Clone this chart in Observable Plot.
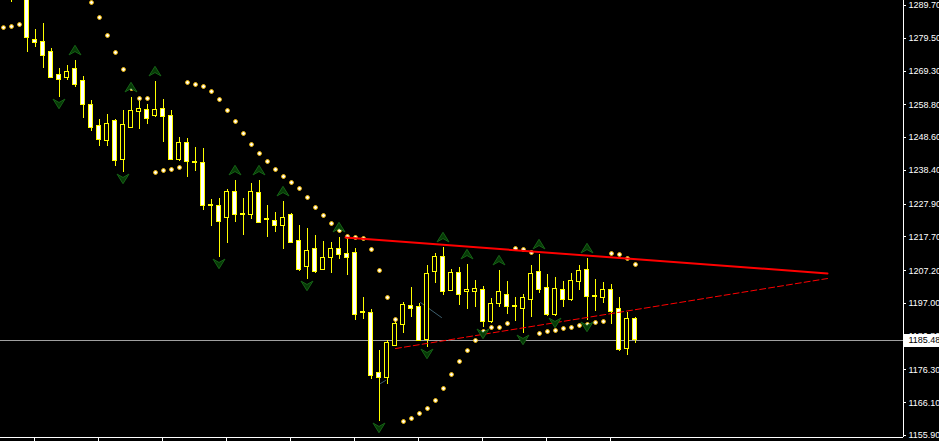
<!DOCTYPE html>
<html><head><meta charset="utf-8">
<script src="https://cdn.jsdelivr.net/npm/d3@7"></script>
<script src="https://cdn.jsdelivr.net/npm/@observablehq/plot@0.6"></script>
<style>
html,body{margin:0;padding:0;background:#000;overflow:hidden;}
#chart svg rect, #chart svg line {shape-rendering:crispEdges;}
</style></head><body><div id="chart"></div>
<script>
// OHLC per bar (bar index 0..79)
const opens = [1295.5,1294.0,1295.5,1293.5,1279.12,1278.50,1275.08,1268.23,1266.99,1270.10,
1266.36,1258.89,1252.36,1247.69,1253.61,1241.78,1251.74,1256.72,1257.34,1255.47,
1257.65,1255.47,1241.78,1247.07,1240.95,1240.54,1227.50,1227.16,1223.73,1231.82,
1224.70,1224.36,1231.51,1223.15,1222.80,1221.24,1224.36,1216.57,1208.18,1213.78,
1207.55,1210.98,1213.78,1212.53,1212.84,1194.20,1194.17,1175.50,1173.95,1183.90,
1190.44,1196.35,1196.04,1185.77,1206.93,1211.60,1201.02,1206.62,1200.40,1200.71,
1201.33,1191.37,1196.97,1199.77,1196.10,1195.42,1198.22,1206.93,1201.95,1193.55,
1201.33,1197.91,1203.82,1207.55,1199.20,1198.84,1201.33,1195.42,1182.96,1192.30];
const highs = [1297.0,1296.5,1298.0,1294.5,1282.23,1284.10,1276.32,1270.10,1271.03,1272.59,
1267.61,1260.14,1254.23,1255.78,1254.23,1257.03,1261.07,1259.83,1258.89,1266.05,
1260.45,1257.03,1248.63,1248.32,1245.51,1245.20,1229.33,1229.65,1232.45,1235.25,
1229.65,1234.31,1235.25,1227.47,1225.29,1228.71,1224.98,1221.24,1220.31,1218.13,
1216.26,1215.95,1217.51,1216.88,1214.09,1198.84,1195.11,1182.34,1185.46,1191.37,
1197.28,1201.95,1196.97,1208.80,1212.53,1214.40,1207.55,1208.18,1209.11,1204.13,
1202.26,1198.53,1207.24,1203.82,1198.84,1199.77,1208.80,1212.22,1206.00,1205.06,
1203.82,1206.31,1208.80,1210.98,1204.44,1203.51,1202.89,1198.84,1194.17,1192.61];
const lows = [1293.0,1290.6,1292.0,1275.08,1276.63,1270.10,1267.30,1261.07,1266.36,1264.18,
1254.54,1250.49,1245.83,1245.83,1239.60,1237.74,1251.74,1251.12,1252.67,1254.85,
1247.07,1241.47,1241.16,1236.18,1238.05,1225.91,1220.93,1211.29,1215.64,1222.18,
1218.13,1223.11,1222.18,1217.51,1219.06,1213.78,1215.64,1206.93,1204.44,1206.31,
1207.55,1206.31,1210.66,1205.69,1191.68,1191.99,1173.32,1160.26,1171.77,1183.90,
1187.64,1192.61,1185.46,1183.27,1203.20,1199.46,1201.02,1196.35,1195.11,1195.73,
1189.51,1190.75,1195.73,1193.55,1191.37,1187.64,1192.61,1200.09,1192.92,1192.92,
1195.73,1197.60,1201.02,1191.68,1194.48,1196.97,1190.44,1182.04,1180.79,1184.52];
const closes = [1294.0,1295.5,1293.5,1279.74,1277.88,1274.14,1267.30,1266.67,1269.16,1265.12,
1258.89,1251.74,1248.00,1252.98,1241.47,1252.67,1257.03,1257.65,1254.54,1257.34,
1255.16,1241.78,1247.07,1241.16,1240.80,1227.47,1227.40,1222.49,1231.82,1224.36,
1224.60,1231.82,1222.18,1223.05,1221.24,1223.73,1215.95,1207.55,1213.46,1206.93,
1210.98,1213.78,1212.22,1211.29,1193.55,1194.10,1174.57,1173.95,1184.83,1190.75,
1196.66,1195.42,1185.46,1206.31,1211.60,1200.71,1206.62,1199.77,1201.33,1201.64,
1191.37,1196.97,1200.40,1196.04,1196.00,1198.84,1206.31,1201.33,1193.55,1201.64,
1198.22,1204.13,1207.24,1199.15,1199.10,1201.33,1194.48,1182.65,1192.30,1185.48];
// Parabolic SAR per bar (null = off screen)
const sar = [1282.85,1283.17,1283.79,null,null,null,null,null,null,null,
null,1290.63,1285.97,1280.37,1275.08,1269.79,1263.87,1260.76,1260.76,1237.74,
1238.36,1238.67,1239.29,1265.74,1265.12,1264.50,1262.94,1260.45,1257.03,1253.61,
1249.87,1246.45,1243.65,1241.16,1238.67,1236.49,1234.62,1232.76,1229.96,1226.85,
1224.36,1221.87,1219.69,1217.82,1217.51,1217.20,1213.78,1207.24,1198.84,1191.99,
1160.26,1161.19,1162.75,1164.30,1166.79,1170.53,1174.88,1178.93,1182.34,1185.46,
1188.26,1189.51,1189.51,1190.75,1214.09,1213.78,1212.84,1187.64,1188.26,1188.57,
1189.20,1189.51,1190.13,1190.44,1191.06,1191.37,1212.53,1212.22,1210.98,1209.11];
const fractalUp = [9,16,19,29,32,35,42,55,58,62,67,73];
const fractalDown = [7,15,27,38,47,53,60,65,69,73];
const priceTicks = [1289.70,1279.50,1269.30,1258.80,1248.60,1238.40,1227.90,1217.70,1207.20,1197.00,1186.80,1176.30,1166.10,1155.90];
const timeTicks = [4,12,20,28,36,44,52,60,68,76];
const upperTrend = [{i:42.875,p:1217.51},{i:103.125,p:1206.31}];
const lowerTrend = [{i:49.125,p:1182.96},{i:103.125,p:1204.75}];
const objLines = [
  [{i:52.25,p:1197.28},{i:54.875,p:1192.61}],
  [{i:47.25,p:1172.08},{i:47.875,p:1173.01}]
];
const lastPrice = 1185.48;

const xDomain = [-0.25, 112.625];
const yDomain = [1155.28, 1291.26];
const xMax = xDomain[1], yMin = yDomain[0];

const bars = opens.map((o,i)=>({i, open:o, high:highs[i], low:lows[i], close:closes[i]}));
const bear = bars.filter(d=>d.close < d.open);
const bull = bars.filter(d=>d.close >= d.open);
const sarData = sar.map((v,i)=>({i, v}));
const upData = fractalUp.map(i=>bars[i]);
const dnData = fractalDown.map(i=>bars[i]);

const arrowUp = {draw(ctx, size){ const s = Math.sqrt(size/Math.PI);
  ctx.moveTo(0,-s); ctx.lineTo(s*1.15,s*0.85); ctx.lineTo(0,s*0.2); ctx.lineTo(-s*1.15,s*0.85); ctx.closePath(); }};
const arrowDn = {draw(ctx, size){ const s = Math.sqrt(size/Math.PI);
  ctx.moveTo(0,s); ctx.lineTo(s*1.15,-s*0.85); ctx.lineTo(0,-s*0.2); ctx.lineTo(-s*1.15,-s*0.85); ctx.closePath(); }};

const font = "Liberation Sans, Arial, sans-serif";
const chart = Plot.plot({
  width: 939, height: 441,
  marginLeft: 0, marginRight: 36, marginTop: 0, marginBottom: 4,
  style: {background:"#000", color:"#fff", overflow:"hidden", fontFamily: font},
  x: {type:"linear", domain: xDomain, axis: null},
  y: {domain: yDomain, axis: null},
  marks: [
    Plot.ruleY([lastPrice], {stroke:"#a0a0a0", strokeWidth:1}),
    ...objLines.map(seg => Plot.line(seg, {x:"i", y:"p", stroke:"#3e5f6e", strokeWidth:1})),
    Plot.ruleX(bars, {x:"i", y1:"low", y2:"high", stroke:"#ffff00", strokeWidth:1, dx:0.5, clip:true}),
    Plot.rect(bull, {x1:d=>d.i-0.25, x2:d=>d.i+0.25, y1:"open", y2:"close", fill:"#000", stroke:"#ffff00", strokeWidth:1, dx:0.5, clip:true}),
    Plot.rect(bear, {x1:d=>d.i-0.25, x2:d=>d.i+0.25, y1:"open", y2:"close", fill:"#ffffff", stroke:"#ffff00", strokeWidth:1, dx:0.5, clip:true}),
    Plot.dot(sarData, {x:"i", y:"v", r:1.9, fill:"#ffffff", stroke:"#ffc400", strokeWidth:1, dx:1}),
    Plot.line(upperTrend, {x:"i", y:"p", stroke:"#ff0000", strokeWidth:2}),
    Plot.line(lowerTrend, {x:"i", y:"p", stroke:"#ff0000", strokeWidth:1, strokeDasharray:"6,3"}),
    Plot.dot(upData, {x:"i", y:"high", symbol: arrowUp, r:5.2, dy:-10, dx:0.5, fill:"#073a07", stroke:"#166316", strokeWidth:1}),
    Plot.dot(dnData, {x:"i", y:"low", symbol: arrowDn, r:5.2, dy:6, dx:0.5, fill:"#073a07", stroke:"#166316", strokeWidth:1}),
    Plot.ruleX([xMax], {stroke:"#ffffff", strokeWidth:1}),
    Plot.ruleY([yMin], {stroke:"#ffffff", strokeWidth:1}),
    Plot.ruleY(priceTicks, {y:d=>d, x1:()=>xMax, x2:()=>xMax+0.375, stroke:"#ffffff"}),
    Plot.ruleX(timeTicks, {x:d=>d, y1:()=>yMin, y2:()=>yMin-1.4, stroke:"#ffffff"}),
    Plot.text(priceTicks, {x:()=>xMax, y:d=>d, text:d=>d.toFixed(2), textAnchor:"start", dx:5, fill:"#ffffff", fontSize:9, fontFamily:font}),
    Plot.rect([lastPrice], {x1:()=>xMax+0.125, x2:()=>xMax+5, y1:d=>d-2.2, y2:d=>d+1.85, fill:"#ffffff"}),
    Plot.text([lastPrice], {x:()=>xMax, y:d=>d, text:d=>d.toFixed(2), textAnchor:"start", dx:5, fill:"#000000", fontSize:9, fontFamily:font})
  ]
});
document.getElementById("chart").appendChild(chart);
</script></body></html>
